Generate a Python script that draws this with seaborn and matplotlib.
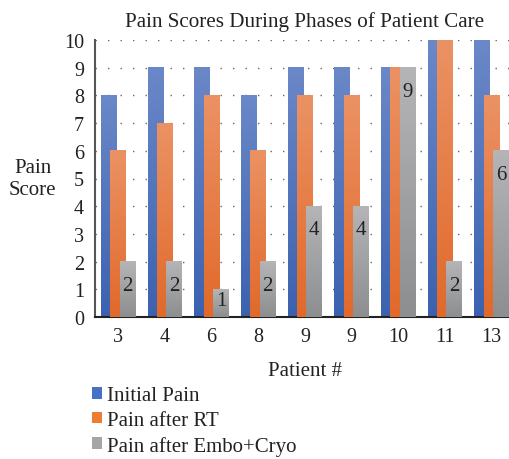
import numpy as np
import pandas as pd
import matplotlib
matplotlib.use('Agg')
import matplotlib.pyplot as plt
import seaborn as sns
from matplotlib.colors import LinearSegmentedColormap
from matplotlib.patches import Patch

# данные
patients = ['3', '4', '6', '8', '9', '9', '10', '11', '13']
initial_pain = [8, 9, 9, 8, 9, 9, 9, 10, 10]
pain_after_rt = [6, 7, 8, 6, 8, 8, 9, 10, 8]
pain_after_embo = [2, 2, 1, 2, 4, 4, 9, 2, 6]
series_names = ['Initial Pain', 'Pain after RT', 'Pain after Embo+Cryo']

# градиент (верх, низ) и цвет в легенде
grad = {
    'Initial Pain': ('#6b88c8', '#3b62b0', '#4472c4'),
    'Pain after RT': ('#eb9264', '#e1692a', '#ed7d31'),
    'Pain after Embo+Cryo': ('#b5b5b7', '#8d8e90', '#a5a5a5'),
}

df = pd.DataFrame({
    'pos': list(range(len(patients))) * 3,
    'score': initial_pain + pain_after_rt + pain_after_embo,
    'series': [s for s in series_names for _ in patients],
})

sns.set_style('white')
plt.rcParams['font.family'] = ['Liberation Serif', 'DejaVu Serif']

fig = plt.figure(figsize=(5.09, 4.6), dpi=100)
ax = fig.add_axes([95 / 509, (460 - 318) / 460, 420 / 509, 277 / 460])

sns.barplot(data=df, x='pos', y='score', hue='series', hue_order=series_names,
            dodge=True, width=0.6, ax=ax, legend=False)

# бары с перекрытием и градиентной заливкой
bar_w = 0.34
gradient = np.linspace(1, 0, 256).reshape(-1, 1)
for i, (name, cont) in enumerate(zip(series_names, ax.containers)):
    cmap = LinearSegmentedColormap.from_list(name, [grad[name][1], grad[name][0]])
    for bar in cont:
        xc = bar.get_x() + bar.get_width() / 2
        h = bar.get_height()
        bar.set_visible(False)
        ax.imshow(gradient, extent=[xc - bar_w / 2, xc + bar_w / 2, 0, h],
                  aspect='auto', cmap=cmap, origin='upper', zorder=2 + i,
                  interpolation='bicubic')
        if name == 'Pain after Embo+Cryo':
            ty = h - 0.85 if h > 1.5 else h - 0.4
            ax.text(xc, ty, str(int(h)), ha='center', va='center',
                    fontsize=15, color='#222222', zorder=10)

ax.set_xlim(-0.5, 8.5)
ax.set_ylim(0, 10)
ax.set_yticks(range(0, 11))
ax.set_xticks(range(len(patients)))
ax.set_xticklabels(patients)

ax.yaxis.grid(True, linestyle=(0, (1, 8)), color='#666666', linewidth=1.0)
ax.xaxis.grid(False)
ax.set_axisbelow(True)

for s in ['top', 'right']:
    ax.spines[s].set_visible(False)
ax.spines['left'].set_color('#555555')
ax.spines['left'].set_linewidth(1.5)
ax.spines['bottom'].set_color('#222222')
ax.spines['bottom'].set_linewidth(1.5)

ax.tick_params(axis='both', length=0, labelsize=14.5, colors='#222222')
ax.tick_params(axis='y', pad=8)
ax.tick_params(axis='x', pad=7)

ax.set_title('Pain Scores During Phases of Patient Care', fontsize=15.2,
             pad=10, color='#222222')
ax.set_xlabel('Patient #', fontsize=15, labelpad=11, color='#222222')
ax.set_ylabel('Pain\nScore', rotation=0, fontsize=15, ha='center', va='center',
              color='#222222', linespacing=1.2)
ax.yaxis.set_label_coords(-0.148, 0.5)

handles = [Patch(facecolor=grad[s][2], edgecolor='none') for s in series_names]
fig.legend(handles, series_names, loc='upper left',
           bbox_to_anchor=(92 / 509, 1 - 387 / 460), frameon=False,
           fontsize=15, handlelength=0.5, handleheight=0.5,
           handletextpad=0.2, labelspacing=0.28, borderaxespad=0, borderpad=0,
           labelcolor='#222222')

fig.savefig('out.png', dpi=100)
